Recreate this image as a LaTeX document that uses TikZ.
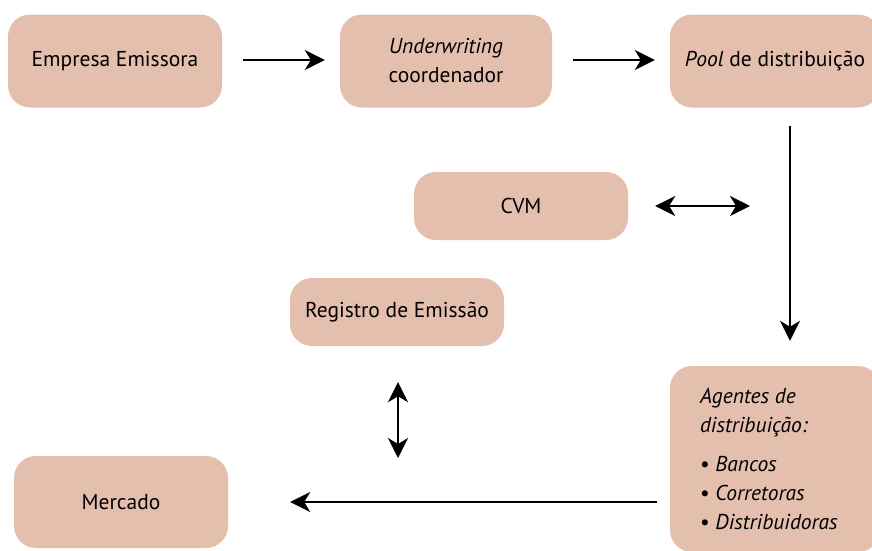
\documentclass[tikz,border=0pt]{standalone}
\usepackage{fontspec}
\setmainfont{PT Sans}
\usetikzlibrary{arrows.meta,positioning}
\definecolor{boxfill}{HTML}{E4BFAD}
\tikzset{
    box/.style={fill=boxfill, rounded corners=22pt, minimum width=214pt, minimum height=93pt,
        inner sep=0pt, align=center, font=\fontsize{21.5}{29}\selectfont},
    smallbox/.style={box, minimum height=68pt},
    flow/.style={line width=2.2pt, -{Stealth[length=20pt,width=20pt,inset=6pt]}},
    both/.style={line width=2.2pt, {Stealth[length=20pt,width=20pt,inset=6pt]}-{Stealth[length=20pt,width=20pt,inset=6pt]}}
}

\begin{document}
\begin{tikzpicture}[x=1pt,y=-1pt]

    \useasboundingbox (0,0) rectangle (872,550);

    % top row
    \node[box] (emissora) at (115,61) {Empresa Emissora};
    \node[box, minimum width=212pt] (underwriting) at (446,61) {\textit{Underwriting}\\coordenador};
    \node[box, minimum width=210pt] (pool) at (775,61) {\textit{Pool} de distribuição};

    % middle
    \node[smallbox] (cvm) at (521,206) {CVM};
    \node[smallbox] (registro) at (397,312) {Registro de Emissão};

    % bottom row
    \node[box, minimum height=92pt] (mercado) at (121,502) {Mercado};
    \node[box, minimum width=210pt, minimum height=186pt, align=flush left, text width=150pt,
        font=\fontsize{21.5}{29}\selectfont\itshape] (agentes) at (775,459)
        {Agentes de\\distribuição:\\[10pt]\textup{•} Bancos\\\textup{•} Corretoras\\\textup{•} Distribuidoras};

    % free ends
    \coordinate (cvmend) at (750,206);
    \coordinate (regend) at (398,458);

    % connectors
    \draw[flow, shorten <=21pt, shorten >=15pt] ([yshift=1pt]emissora.east) -- ([yshift=1pt]underwriting.west);
    \draw[flow, shorten <=21pt, shorten >=15pt] ([yshift=1pt]underwriting.east) -- ([yshift=1pt]pool.west);
    \draw[flow, shorten <=18pt, shorten >=25pt] ([xshift=15pt]pool.south) -- ([xshift=15pt]agentes.north);
    \draw[both, shorten <=27pt] (cvm.east) -- (cvmend);
    \draw[both, shorten <=36pt] (registro.south -| regend) -- (regend);
    \draw[flow, shorten <=13pt, shorten >=62pt] (agentes.west |- mercado.east) -- (mercado.east);

\end{tikzpicture}
\end{document}
